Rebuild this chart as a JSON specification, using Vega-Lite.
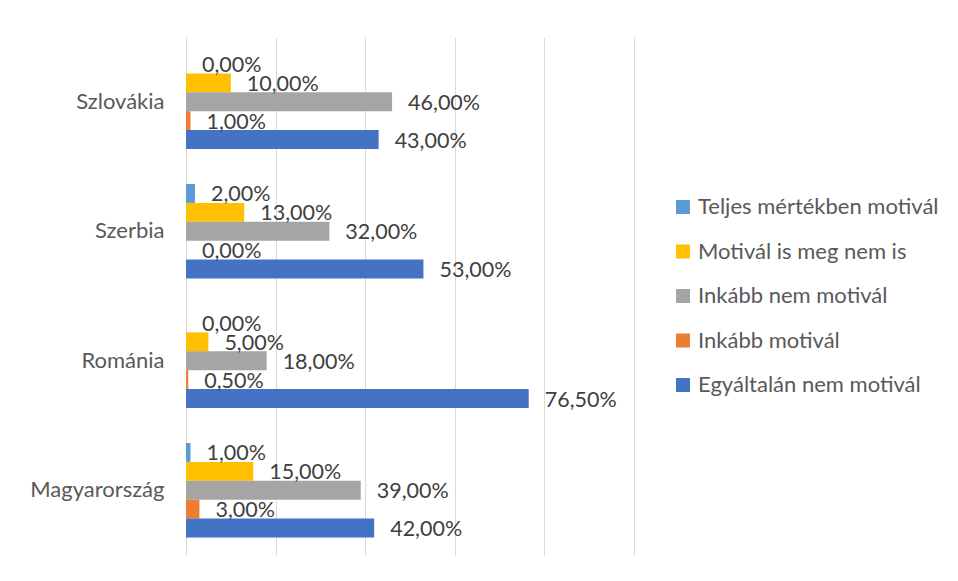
{
  "$schema": "https://vega.github.io/schema/vega-lite/v6.json",
  "autosize": "none",
  "padding": {"left": 186, "top": 37, "right": 324, "bottom": 26},
  "width": 448,
  "height": 518,
  "background": "white",
  "data": {
    "values": [
      {"country": "Szlovákia", "series": "Teljes mértékben motivál", "v": 0.0},
      {"country": "Szlovákia", "series": "Motivál is meg nem is", "v": 0.10},
      {"country": "Szlovákia", "series": "Inkább nem motivál", "v": 0.46},
      {"country": "Szlovákia", "series": "Inkább motivál", "v": 0.01},
      {"country": "Szlovákia", "series": "Egyáltalán nem motivál", "v": 0.43},
      {"country": "Szerbia", "series": "Teljes mértékben motivál", "v": 0.02},
      {"country": "Szerbia", "series": "Motivál is meg nem is", "v": 0.13},
      {"country": "Szerbia", "series": "Inkább nem motivál", "v": 0.32},
      {"country": "Szerbia", "series": "Inkább motivál", "v": 0.0},
      {"country": "Szerbia", "series": "Egyáltalán nem motivál", "v": 0.53},
      {"country": "Románia", "series": "Teljes mértékben motivál", "v": 0.0},
      {"country": "Románia", "series": "Motivál is meg nem is", "v": 0.05},
      {"country": "Románia", "series": "Inkább nem motivál", "v": 0.18},
      {"country": "Románia", "series": "Inkább motivál", "v": 0.005},
      {"country": "Románia", "series": "Egyáltalán nem motivál", "v": 0.765},
      {"country": "Magyarország", "series": "Teljes mértékben motivál", "v": 0.01},
      {"country": "Magyarország", "series": "Motivál is meg nem is", "v": 0.15},
      {"country": "Magyarország", "series": "Inkább nem motivál", "v": 0.39},
      {"country": "Magyarország", "series": "Inkább motivál", "v": 0.03},
      {"country": "Magyarország", "series": "Egyáltalán nem motivál", "v": 0.42}
    ]
  },
  "transform": [
    {"calculate": "replace(format(datum.v * 100, '.2f'), '.', ',') + '%'", "as": "label"}
  ],
  "encoding": {
    "y": {
      "field": "country",
      "type": "nominal",
      "sort": ["Szlovákia", "Szerbia", "Románia", "Magyarország"],
      "scale": {"paddingInner": 0.27, "paddingOuter": 0.135},
      "axis": {
        "title": null,
        "ticks": false,
        "domain": false,
        "labelPadding": 22,
        "labelFontSize": 22,
        "labelFont": "Lato",
        "labelColor": "#595959"
      }
    },
    "yOffset": {
      "field": "series",
      "type": "nominal",
      "sort": ["Teljes mértékben motivál", "Motivál is meg nem is", "Inkább nem motivál", "Inkább motivál", "Egyáltalán nem motivál"],
      "scale": {"paddingInner": 0, "paddingOuter": 0}
    },
    "x": {
      "field": "v",
      "type": "quantitative",
      "scale": {"domain": [0, 1], "nice": false},
      "axis": {
        "title": null,
        "labels": false,
        "ticks": false,
        "domain": false,
        "values": [0, 0.2, 0.4, 0.6, 0.8, 1.0],
        "grid": true,
        "gridColor": "#d9d9d9",
        "gridWidth": 1
      }
    }
  },
  "layer": [
    {
      "mark": {"type": "bar"},
      "encoding": {
        "color": {
          "field": "series",
          "type": "nominal",
          "sort": ["Teljes mértékben motivál", "Motivál is meg nem is", "Inkább nem motivál", "Inkább motivál", "Egyáltalán nem motivál"],
          "scale": {
            "domain": ["Teljes mértékben motivál", "Motivál is meg nem is", "Inkább nem motivál", "Inkább motivál", "Egyáltalán nem motivál"],
            "range": ["#5B9BD5", "#FFC000", "#A5A5A5", "#ED7D31", "#4472C4"]
          },
          "legend": {
            "title": null,
            "orient": "none",
            "legendX": 486,
            "legendY": 159,
            "symbolType": "square",
            "symbolSize": 196,
            "symbolStrokeWidth": 0,
            "labelFontSize": 22,
            "labelFont": "Lato",
            "labelColor": "#595959",
            "labelOffset": 4,
            "rowPadding": 22.5,
            "labelLimit": 400
          }
        }
      }
    },
    {
      "mark": {"type": "text", "align": "left", "baseline": "middle", "dx": 16, "dy": 2, "font": "Lato", "fontSize": 21.5, "color": "#404040"},
      "encoding": {
        "text": {"field": "label", "type": "nominal"}
      }
    }
  ],
  "config": {
    "view": {"stroke": null}
  }
}
